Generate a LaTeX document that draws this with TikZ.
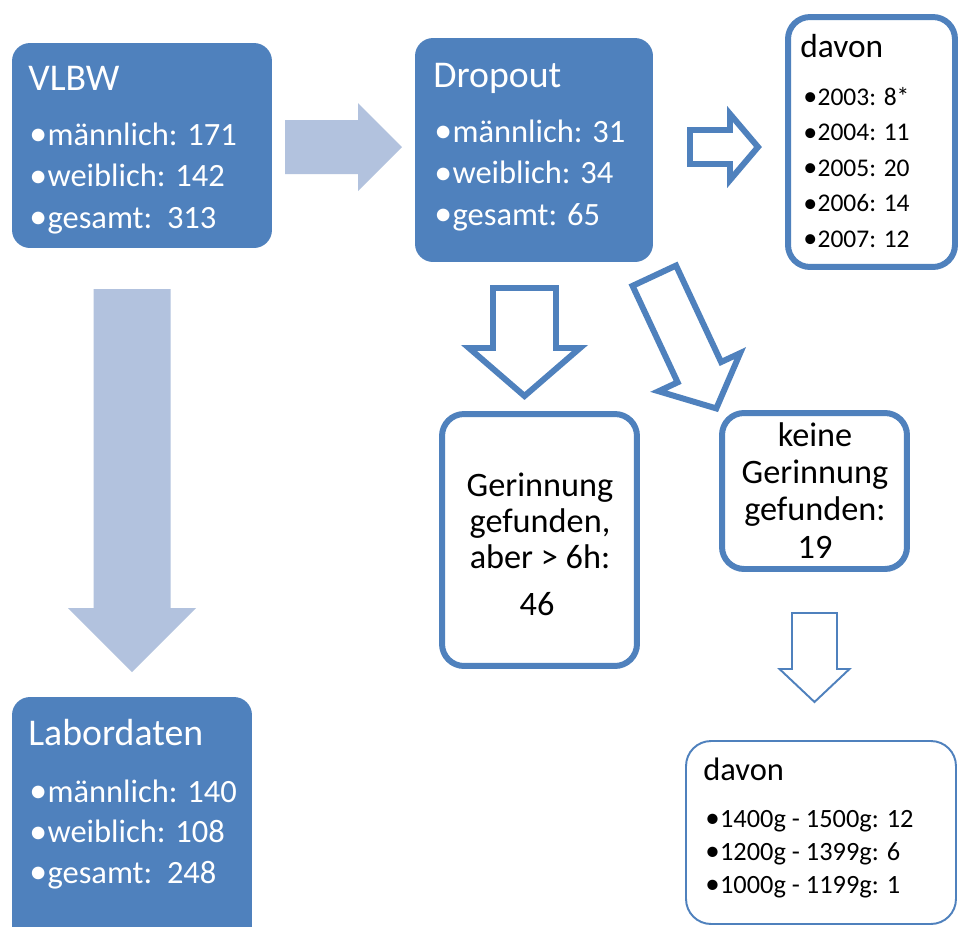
\documentclass[tikz,border=0pt]{standalone}
\usepackage{fontspec}
\setmainfont{Carlito}
\definecolor{boxblue}{HTML}{4F81BD}
\definecolor{arrowblue}{HTML}{B2C2DE}
\newcommand{\itm}{\makebox[0.56em][l]{\raisebox{-0.03em}{\scalebox{1.1}{\textbullet}}}}

\tikzset{
  pics/blockarr/.style n args={4}{code={
      % length, shaft half width, head half width, head length
      \path[pic actions] (0,#2) -- ({#1-#4},#2) -- ({#1-#4},#3) -- (#1,0)
        -- ({#1-#4},-#3) -- ({#1-#4},-#2) -- (0,-#2) -- cycle;
  }},
}

\begin{document}
\begin{tikzpicture}[x=0.02cm, y=-0.02cm, every node/.style={inner sep=0pt},
    darkbox/.style={rectangle, rounded corners=0.36cm, fill=boxblue},
    linebox/.style={rectangle, rounded corners=0.44cm, draw=boxblue, line width=3.4pt, fill=white},
    thinbox/.style={rectangle, rounded corners=0.5cm, draw=boxblue, line width=1.1pt, fill=white},
    bigarrow/.style={fill=arrowblue},
    linearrow/.style={draw=boxblue, line width=3.4pt, line join=miter, fill=white},
    thinarrow/.style={draw=boxblue, line width=1.1pt, line join=miter, fill=white},
    headtext/.style={anchor=base west, text=white, font=\fontsize{21.5}{26}\selectfont},
    itemtext/.style={anchor=base west, text=white, font=\fontsize{18.5}{22}\selectfont},
    davontext/.style={anchor=base west, font=\fontsize{19}{23}\selectfont},
    smallitem/.style={anchor=base west, font=\fontsize{14.5}{17}\selectfont},
    midtext/.style={anchor=base, font=\fontsize{19.5}{23}\selectfont}]
    \fill[white] (0,0) rectangle (958,927);
    \useasboundingbox (0,0) rectangle (958,927);

    % VLBW
    \node[darkbox, minimum width=5.2cm, minimum height=4.1cm] (vlbw) at (142,145.5) {};
    \node[headtext] (vlbw-t) at (28,90) {VLBW};
    \foreach \txt [count=\i] in {männlich: 171, weiblich: 142, gesamt:~~313}
        \node[itemtext] (vlbw-\i) at (29,{145+41.5*(\i-1)}) {\itm\txt};

    % Dropout
    \node[darkbox, minimum width=4.76cm, minimum height=4.48cm] (drop) at (534,150) {};
    \node[headtext] (drop-t) at (433,87) {Dropout};
    \foreach \txt [count=\i] in {männlich: 31, weiblich: 34, gesamt: 65}
        \node[itemtext] (drop-\i) at (434,{142+41.5*(\i-1)}) {\itm\txt};

    % davon (Jahre)
    \node[linebox, minimum width=3.34cm, minimum height=5cm] (years) at (871.5,142) {};
    \node[davontext] (years-t) at (800,57) {davon};
    \foreach \txt [count=\i] in {2003: 8*, 2004: 11, 2005: 20, 2006: 14, 2007: 12}
        \node[smallitem] (years-\i) at (803,{105+35.5*(\i-1)}) {\itm\txt};

    % Labordaten
    \node[darkbox, minimum width=4.8cm, minimum height=5.26cm] (labor) at (132,828.5) {};
    \node[headtext] (labor-t) at (28,745) {Labordaten};
    \foreach \txt [count=\i] in {männlich: 140, weiblich: 108, gesamt:~~248}
        \node[itemtext] (labor-\i) at (29,{802+40.5*(\i-1)}) {\itm\txt};

    % Gerinnung
    \node[linebox, minimum width=3.9cm, minimum height=5.04cm] (ger) at (539.5,540) {};
    \node[midtext] (ger-1) at (540,496) {Gerinnung};
    \node[midtext] (ger-2) at (540,532) {gefunden,};
    \node[midtext] (ger-3) at (540,568) {aber > 6h:};
    \node[midtext] (ger-4) at (537,615) {46};

    % keine Gerinnung
    \node[linebox, minimum width=3.7cm, minimum height=3.12cm] (keine) at (814.5,491) {};
    \node[midtext] (keine-1) at (815,446) {keine};
    \node[midtext] (keine-2) at (815,483) {Gerinnung};
    \node[midtext] (keine-3) at (815,520) {gefunden:};
    \node[midtext] (keine-4) at (815,558) {19};

    % davon (Gewicht)
    \node[thinbox, minimum width=5.4cm, minimum height=3.66cm] (weight) at (821,832.5) {};
    \node[davontext, font=\fontsize{18.5}{22}\selectfont] (weight-t) at (703,780) {davon};
    \foreach \txt [count=\i] in {1400g - 1500g: 12, 1200g - 1399g: 6, 1000g - 1199g: 1}
        \node[smallitem, font=\fontsize{15}{18}\selectfont] (weight-\i) at (705,{827+33*(\i-1)}) {\itm\txt};

    % Pfeile
    \pic[bigarrow] (arr-a) at (285,147) {blockarr={117}{27}{44}{44}};
    \pic[bigarrow, rotate=-90] (arr-b) at (132,289) {blockarr={383}{38.5}{64}{64}};
    \pic[linearrow] (arr-c) at (690,147) {blockarr={68}{17}{33}{28}};
    \pic[linearrow, rotate=-90] (arr-d) at (524.5,288) {blockarr={108}{31.5}{55.5}{48}};
    \pic[linearrow, rotate=-64.96] (arr-e) at (654.3,275.7) {blockarr={146.5}{24}{45}{40}};
    \pic[thinarrow, rotate=-90] (arr-f) at (814.5,613) {blockarr={89}{22.5}{35}{33}};
\end{tikzpicture}
\end{document}
